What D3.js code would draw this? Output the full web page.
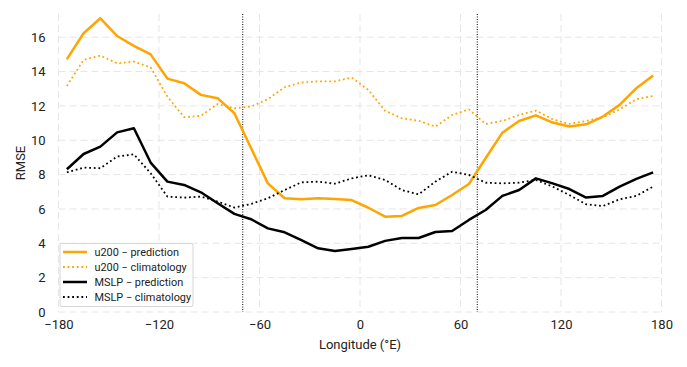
<!DOCTYPE html>
<html><head><meta charset="utf-8">
<script src="https://cdn.jsdelivr.net/npm/d3@7"></script>
<style>body{margin:0;background:#fff}svg{display:block;font-family:Roboto,"DejaVu Sans",sans-serif}</style>
</head><body><svg id="c" width="687" height="367"></svg>
<script>
const lons = d3.range(-175, 180, 10);
const u200Pred = [14.72,16.23,17.1,16.07,15.49,15.0,13.59,13.32,12.64,12.45,11.57,9.53,7.49,6.62,6.56,6.62,6.58,6.52,6.07,5.55,5.59,6.06,6.23,6.81,7.45,8.95,10.44,11.12,11.45,11.03,10.8,10.93,11.38,12.06,13.03,13.77];
const u200Clim = [13.16,14.68,14.93,14.48,14.58,14.25,12.54,11.34,11.42,12.11,11.86,11.96,12.39,13.09,13.36,13.43,13.43,13.65,12.93,11.71,11.28,11.14,10.8,11.47,11.8,10.95,11.12,11.47,11.73,11.22,10.95,11.12,11.34,11.8,12.39,12.58];
const mslpPred = [8.31,9.2,9.63,10.46,10.7,8.7,7.59,7.4,6.97,6.33,5.71,5.4,4.87,4.64,4.19,3.71,3.55,3.67,3.8,4.14,4.31,4.31,4.66,4.72,5.36,5.94,6.76,7.1,7.78,7.49,7.16,6.66,6.76,7.3,7.75,8.13];
const mslpClim = [8.13,8.41,8.37,9.05,9.18,8.08,6.72,6.66,6.72,6.43,6.08,6.29,6.62,7.1,7.55,7.59,7.47,7.78,7.96,7.69,7.1,6.85,7.59,8.17,7.98,7.53,7.49,7.53,7.69,7.3,6.81,6.27,6.17,6.56,6.76,7.3];
const xTicks = [-180,-120,-60,0,60,120,180];
const yTicks = [0,2,4,6,8,10,12,14,16];
const vLines = [-70,70];
const seriesNames = ["u200 \u2212 prediction","u200 \u2212 climatology","MSLP \u2212 prediction","MSLP \u2212 climatology"];

const svg = d3.select("#c");
const L=58.5,R=661.5,T=14,B=312;
const x = d3.scaleLinear().domain([-180,180]).range([L,R]);
const y = d3.scaleLinear().domain([0,17.35]).range([B,T]);

const grid = svg.append("g");
grid.selectAll(".gy").data(yTicks).join("line")
  .attr("x1",L).attr("x2",R).attr("y1",d=>y(d)).attr("y2",d=>y(d))
  .attr("stroke","#e6e6e6").attr("stroke-width",1).attr("stroke-dasharray","7,4");
grid.selectAll(".gx").data(xTicks).join("line")
  .attr("x1",d=>x(d)).attr("x2",d=>x(d)).attr("y1",T).attr("y2",B)
  .attr("stroke","#e6e6e6").attr("stroke-width",1).attr("stroke-dasharray","7,4");

const xAxis = svg.append("g").attr("transform",`translate(0,${B})`)
  .call(d3.axisBottom(x).tickValues(xTicks).tickSize(0).tickPadding(8).tickFormat(d=>d3.format("d")(d).replace("-","\u2212")));
xAxis.select(".domain").remove();
xAxis.selectAll("text").attr("font-size",13).attr("fill","#222").attr("font-family","Roboto");
const yAxis = svg.append("g").attr("transform",`translate(${L},0)`)
  .call(d3.axisLeft(y).tickValues(yTicks).tickSize(0).tickPadding(13));
yAxis.select(".domain").remove();
yAxis.selectAll("text").attr("font-size",13).attr("fill","#222").attr("font-family","Roboto");

svg.append("text").attr("x",(L+R)/2).attr("y",349).attr("text-anchor","middle")
  .attr("font-size",13).attr("fill","#222").text("Longitude (\u00b0E)");
svg.append("text").attr("transform",`translate(25,${(T+B)/2}) rotate(-90)`).attr("text-anchor","middle")
  .attr("font-size",13).attr("fill","#222").text("RMSE");

svg.selectAll(".vl").data(vLines).join("line")
  .attr("x1",d=>x(d)).attr("x2",d=>x(d)).attr("y1",T).attr("y2",B)
  .attr("stroke","#000").attr("stroke-width",1).attr("stroke-dasharray","1,1.5");

const line = d3.line().x((d,i)=>x(lons[i])).y(d=>y(d));
const styles = [
  {data:u200Pred,color:"#FFA500",w:2.5,dash:null},
  {data:u200Clim,color:"#FFA500",w:1.8,dash:"1.8,2.8"},
  {data:mslpPred,color:"#000",w:2.5,dash:null},
  {data:mslpClim,color:"#000",w:1.8,dash:"1.8,2.8"}
];
styles.forEach(s=>{
  svg.append("path").attr("d",line(s.data)).attr("fill","none")
    .attr("stroke",s.color).attr("stroke-width",s.w).attr("stroke-linejoin","round")
    .attr("stroke-dasharray",s.dash);
});

const lg = svg.append("g");
lg.append("rect").attr("x",60).attr("y",243.5).attr("width",133).attr("height",63)
  .attr("rx",2).attr("fill","#fff").attr("fill-opacity",0.85).attr("stroke","#d6d6d6");
styles.forEach((s,i)=>{
  const yy = 252 + i*15;
  lg.append("line").attr("x1",63).attr("x2",87).attr("y1",yy).attr("y2",yy)
    .attr("stroke",s.color).attr("stroke-width",s.w).attr("stroke-dasharray",s.dash);
  lg.append("text").attr("x",94.5).attr("y",yy+4).attr("font-size",10.9).attr("fill","#222").text(seriesNames[i]);
});
</script></body></html>
